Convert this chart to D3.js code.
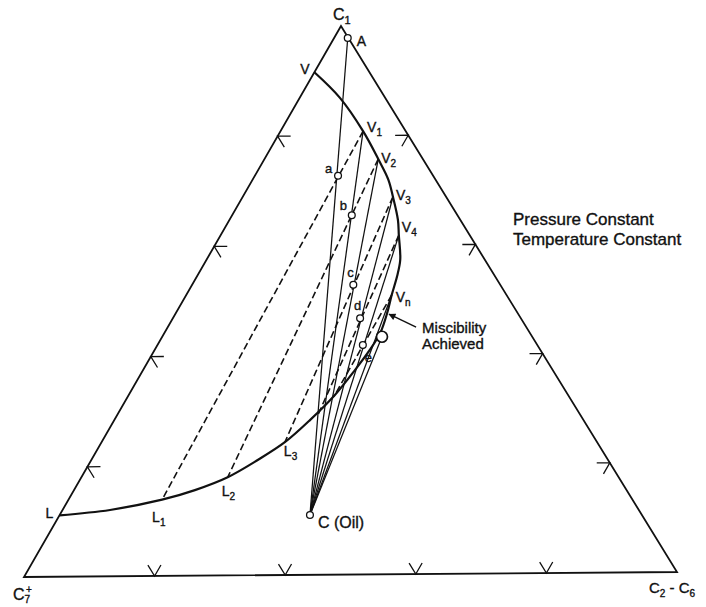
<!DOCTYPE html>
<html><head><meta charset="utf-8">
<script src="https://cdn.jsdelivr.net/npm/d3@7"></script>
<style>
body{margin:0;background:#fff}
text{font-family:"Liberation Sans",Arial,Helvetica,sans-serif;fill:#111;stroke:#111;stroke-width:0.35px}
</style>
</head><body>
<svg id="chart" width="706" height="607"></svg>
<script>
// ---- DATA (compositions in %, order: [C1, C2-C6, C7+]) ----
const componentNames = ["C1", "C2 - C6", "C7+"];
const tickFractions = [0.2, 0.4, 0.6, 0.8];

// two-phase envelope (dew side V ... plait ... bubble side L)
const envelope = [
  [91.6,0.0,8.4],[86.9,6.2,6.9],[80.8,12.7,6.5],[75.7,17.5,6.8],[71.9,20.9,7.2],
  [68.8,23.1,8.1],[64.6,25.9,9.5],[61.8,27.4,10.8],[57.3,29.8,12.9],[54.2,30.8,15.0],
  [50.9,31.6,17.5],[47.6,32.5,19.9],[44.0,33.2,22.8],[40.9,33.1,26.0],[37.3,32.6,30.1],
  [32.7,31.7,35.6],[28.2,30.1,41.7],[24.2,28.2,47.6],[21.0,25.6,53.4],[17.9,22.5,59.6],
  [15.6,18.6,65.8],[13.9,14.4,71.7],[12.1,7.3,80.6],[11.2,0.0,88.8]
];

const vaporNames = ["V", "V1", "V2", "V3", "V4", "Vn"];
const vaporComps = [[91.6,0.0,8.4],[80.8,12.7,6.5],[75.7,17.5,6.8],[68.8,23.1,8.1],[61.8,27.4,10.8],[50.9,31.6,17.5]];

const liquidNames = ["L", "L1", "L2", "L3", "L4", "Ln"];
const liquidComps = [[11.2,0.0,88.8],[13.9,14.4,71.7],[17.9,22.5,59.6],[24.2,28.2,47.6],[28.8,30.9,40.3],[32.6,31.7,35.8]];
const liquidLabeled = ["L", "L1", "L2", "L3"];

const mixNames = ["A", "a", "b", "c", "d", "e", "C (Oil)"];
const mixComps = [[97.8,2.1,0.1],[72.7,12.8,14.5],[65.5,18.4,16.1],[52.8,24.8,22.4],[46.8,28.8,24.5],[41.8,31.6,26.6],[10.9,38.5,50.6]];

const criticalComp = [43.3,33.8,22.9];
const miscArrowTip = [47.4,32.9,19.7];

// tie lines (vapor index -> liquid index), dashed
const tieLines = [[1,1],[2,2],[3,3],[4,4],[5,5]];
// lines from oil C to gas compositions
const oilLinesTo = ["A", "V1", "V2", "V3", "V4", "Vn"];

const noteLines = ["Pressure Constant", "Temperature Constant"];
const miscText = ["Miscibility", "Achieved"];

// ---- LAYOUT ----
const svg = d3.select("#chart");
const apex = {x:341, y:26}, vLeft = {x:24, y:577}, vRight = {x:677, y:572};
const sC7x = d3.scaleLinear().domain([0,100]).range([0, vLeft.x - apex.x]);
const sC7y = d3.scaleLinear().domain([0,100]).range([0, vLeft.y - apex.y]);
const sC26x = d3.scaleLinear().domain([0,100]).range([0, vRight.x - apex.x]);
const sC26y = d3.scaleLinear().domain([0,100]).range([0, vRight.y - apex.y]);
function proj(c){ return [apex.x + sC7x(c[2]) + sC26x(c[1]), apex.y + sC7y(c[2]) + sC26y(c[1])]; }
const add = (a,b)=>[a[0]+b[0],a[1]+b[1],a[2]+b[2]];
const line = d3.line();

// triangle
svg.append("path")
  .attr("d", line([proj([100,0,0]), proj([0,0,100]), proj([0,100,0])]) + "Z")
  .attr("fill","none").attr("stroke","#111").attr("stroke-width",1.8).attr("stroke-linejoin","miter");

// ticks
const k = 2;
const tickG = svg.append("g").attr("stroke","#111").attr("stroke-width",1.3).attr("fill","none");
tickFractions.forEach(t=>{
  const specs = [
    {p:[100*(1-t),0,100*t], a1:[0,k,-k], a2:[-k,k,0]},   // left edge
    {p:[100*(1-t),100*t,0], a1:[0,-k,k], a2:[-k,0,k]},   // right edge
    {p:[0,100*t,100*(1-t)], a1:[k,-k,0], a2:[k,0,-k]}    // bottom edge
  ];
  specs.forEach(s=>{
    tickG.append("path").attr("d", line([proj(add(s.p,s.a1)), proj(s.p), proj(add(s.p,s.a2))]));
  });
});

// helpers
const byName = {};
vaporNames.forEach((n,i)=>byName[n]=vaporComps[i]);
liquidNames.forEach((n,i)=>byName[n]=liquidComps[i]);
mixNames.forEach((n,i)=>byName[n]=mixComps[i]);

// lines from oil
const oil = byName["C (Oil)"];
const oilG = svg.append("g").attr("stroke","#111").attr("stroke-width",1.25).attr("fill","none");
oilLinesTo.forEach(n=>{
  oilG.append("path").attr("d", line([proj(oil), proj(byName[n])]));
});
oilG.append("path").attr("d", line([proj(oil), proj(criticalComp)]));

// tie lines (dashed)
const tieG = svg.append("g").attr("stroke","#111").attr("stroke-width",1.6).attr("fill","none").attr("stroke-dasharray","7,3.5");
tieLines.forEach(([vi,li])=>{
  tieG.append("path").attr("d", line([proj(vaporComps[vi]), proj(liquidComps[li])]));
});

// envelope
svg.append("path")
  .attr("d", d3.line().curve(d3.curveCatmullRom.alpha(0.5))(envelope.map(proj)))
  .attr("fill","none").attr("stroke","#111").attr("stroke-width",2.2);

// small open circles
const circG = svg.append("g").attr("fill","#fff").attr("stroke","#111").attr("stroke-width",1.3);
mixComps.forEach(c=>{
  const p = proj(c);
  circG.append("circle").attr("cx",p[0]).attr("cy",p[1]).attr("r",3.4);
});
{
  const p = proj(criticalComp);
  circG.append("circle").attr("cx",p[0]).attr("cy",p[1]).attr("r",5.5).attr("stroke-width",1.7);
}

// labels
function subLabel(g, x, y, main, sub, size, subSize){
  const t = g.append("text").attr("x",x).attr("y",y).attr("font-size",size);
  t.append("tspan").text(main);
  if (sub) t.append("tspan").attr("font-size",subSize).attr("dy",4).text(sub);
  return t;
}
const labG = svg.append("g");
const vOff = {"V":[-14,2],"V1":[4,1],"V2":[3,4],"V3":[3,3],"V4":[3,-3],"Vn":[4,7]};
vaporNames.forEach((n,i)=>{
  const p = proj(vaporComps[i]), o = vOff[n];
  subLabel(labG, p[0]+o[0], p[1]+o[1], n[0], n.slice(1), 14, 10);
});
const lOff = {"L":[-14,3],"L1":[-10,22],"L2":[-6,19],"L3":[-1,14]};
liquidNames.forEach((n,i)=>{
  if (!liquidLabeled.includes(n)) return;
  const p = proj(liquidComps[i]), o = lOff[n];
  subLabel(labG, p[0]+o[0], p[1]+o[1], n[0], n.slice(1), 14, 10);
});
const mOff = {"A":[9,8],"a":[-13,-3],"b":[-12,-5],"c":[-6,-8],"d":[-6,-8],"e":[2,17],"C (Oil)":[8,13]};
const mSize = {"A":14,"a":13,"b":13,"c":13,"d":13,"e":13,"C (Oil)":16};
mixNames.forEach((n,i)=>{
  const p = proj(mixComps[i]), o = mOff[n];
  labG.append("text").attr("x",p[0]+o[0]).attr("y",p[1]+o[1]).attr("font-size",mSize[n]).text(n);
});

// vertex labels
{
  const pT = proj([100,0,0]);
  subLabel(labG, pT[0]-8, pT[1]-6, "C", componentNames[0].slice(1), 16, 11);
  const pL = proj([0,0,100]);
  const t = labG.append("text").attr("x",pL[0]-11).attr("y",pL[1]+23).attr("font-size",16);
  t.append("tspan").text("C");
  t.append("tspan").attr("font-size",10).attr("dy",3).text(componentNames[2].slice(1,2));
  labG.append("text").attr("x",pL[0]+2).attr("y",pL[1]+16).attr("font-size",10).text(componentNames[2].slice(2));
  const pR = proj([0,100,0]);
  const r = labG.append("text").attr("x",pR[0]-28).attr("y",pR[1]+21).attr("font-size",15);
  r.append("tspan").text("C");
  r.append("tspan").attr("font-size",10).attr("dy",4).text("2");
  r.append("tspan").attr("dy",-4).text(" - C");
  r.append("tspan").attr("font-size",10).attr("dy",4).text("6");
}

// notes
noteLines.forEach((s,i)=>{
  labG.append("text").attr("x",513).attr("y",225+20*i).attr("font-size",17).text(s);
});

// miscibility annotation
svg.append("defs").append("marker").attr("id","ah").attr("viewBox","0 0 10 10")
  .attr("refX",9).attr("refY",5).attr("markerWidth",9).attr("markerHeight",7)
  .attr("markerUnits","userSpaceOnUse").attr("orient","auto")
  .append("path").attr("d","M0,0L10,5L0,10Z").attr("fill","#111");
{
  const tip = proj(miscArrowTip);
  svg.append("path").attr("d", line([[tip[0]+27, tip[1]+13], tip]))
    .attr("stroke","#111").attr("stroke-width",1.4).attr("marker-end","url(#ah)");
  miscText.forEach((s,i)=>{
    labG.append("text").attr("x",tip[0]+33).attr("y",tip[1]+19+16*i).attr("font-size",15).text(s);
  });
}
</script>
</body></html>
